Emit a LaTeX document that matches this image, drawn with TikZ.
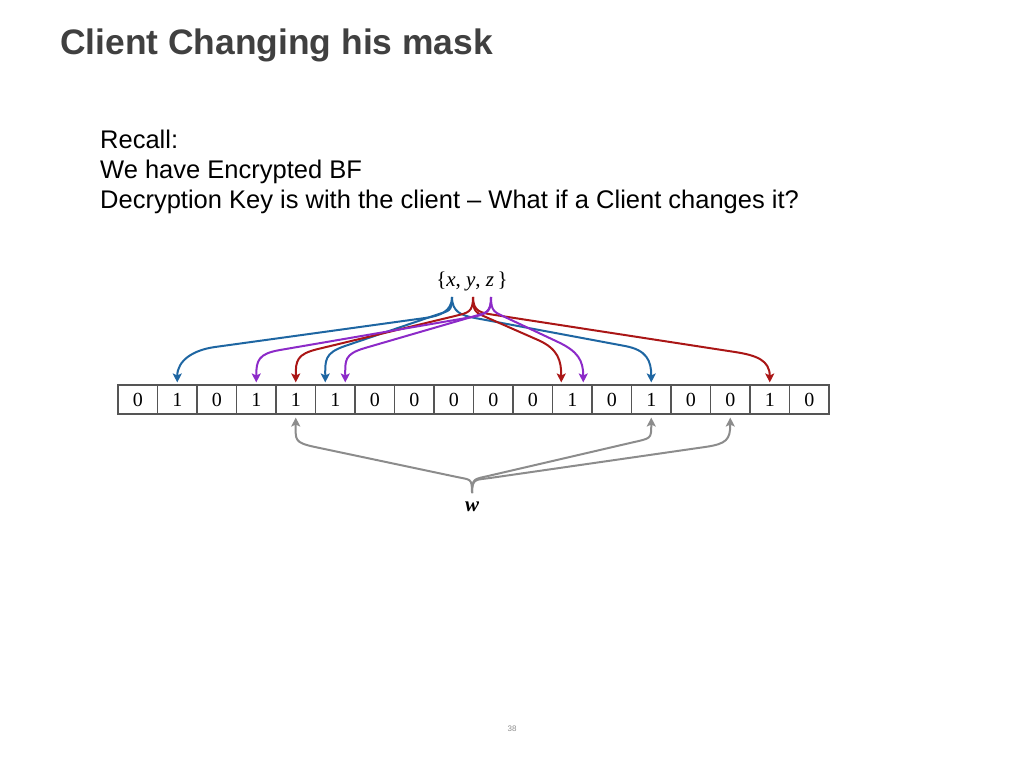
\documentclass[tikz,border=0pt]{standalone}
\usepackage{fontspec}
\newfontfamily\sansf{Liberation Sans}
\newfontfamily\serf{Liberation Serif}
\usetikzlibrary{calc,arrows.meta}
\definecolor{titlegray}{RGB}{64,64,64}
\definecolor{cellgray}{RGB}{85,85,85}
\definecolor{ablue}{RGB}{30,102,162}
\definecolor{ared}{RGB}{170,22,22}
\definecolor{apurple}{RGB}{140,42,200}
\definecolor{agray}{RGB}{140,140,140}
\newcommand{\fanarrow}[6]{%
  \draw[#1] (#2) .. controls +(0,{15*(#6)}) and ($(#4)!-14pt!(#5)$) .. (#4)
     .. controls ($(#4)!0.33!(#5)$) and ($(#4)!0.67!(#5)$) .. (#5)
     .. controls ($(#5)!-22pt!(#4)$) and +(0,{-22*(#6)}) .. (#3);}
\tikzset{
  body/.style={anchor=base west, inner sep=0, font=\sansf\fontsize{25.5}{30}\selectfont},
  cell/.style={draw=cellgray, line width=1.1pt, minimum width=39.5pt, minimum height=29pt,
    inner sep=0, font=\serf\fontsize{20}{20}\selectfont},
  arr/.style={line width=2pt, -{Stealth[length=9pt,width=9pt,inset=2pt]}},
}
\begin{document}
\begin{tikzpicture}[x=1pt,y=-1pt]
\useasboundingbox (0,0) rectangle (1024,768);
\node[anchor=base west, inner sep=0, text=titlegray, font=\sansf\bfseries\fontsize{35.4}{40}\selectfont] (title) at (60,55) {Client Changing his mask};
\node[body] (l1) at (100,148) {Recall:};
\node[body] (l2) at (100,178) {We have Encrypted BF};
\node[body] (l3) at (100,208) {Decryption Key is with the client \textendash{} What if a Client changes it?};
\foreach \b [count=\i] in {0,1,0,1,1,1,0,0,0,0,0,1,0,1,0,0,1,0}
  \node[cell] (c\i) at ({118+39.5*(\i-0.5)},399.5) {\b};
\node[inner sep=0, font=\serf\fontsize{21}{21}\selectfont] (set) at (472,281) {\{\textit{x}, \textit{y}, \textit{z}\,\}};
\node[inner sep=0, font=\serf\bfseries\itshape\fontsize{21}{21}\selectfont] (w) at (472,507) {w};
\coordinate (sb) at (452,297);
\coordinate (sr) at (473,297);
\coordinate (sp) at (491,297);
\coordinate (sw) at (472,493);
% blue
\fanarrow{arr,ablue}{sb}{[yshift=2pt]c2.north}{425,318}{215,347}{1}
\fanarrow{arr,ablue}{sb}{[xshift=-10pt,yshift=2pt]c6.north}{436,315}{345,346}{1}
\fanarrow{arr,ablue}{sb}{[yshift=2pt]c14.north}{475,318}{625,346}{1}
% red
\fanarrow{arr,ared}{sr}{[yshift=2pt]c5.north}{455,316}{318,349}{1}
\fanarrow{arr,ared}{sr}{[xshift=-11pt,yshift=2pt]c12.north}{488,318}{538,340}{1}
\fanarrow{arr,ared}{sr}{[yshift=2pt]c17.north}{495,315}{735,352}{1}
% purple
\fanarrow{arr,apurple}{sp}{[yshift=2pt]c4.north}{472,317}{280,350}{1}
\fanarrow{arr,apurple}{sp}{[xshift=10pt,yshift=2pt]c6.north}{475,316}{365,348}{1}
\fanarrow{arr,apurple}{sp}{[xshift=11pt,yshift=2pt]c12.north}{507,318}{558,342}{1}
% gray
\fanarrow{arr,agray}{sw}{[yshift=-3pt]c5.south}{457,477}{315,447}{-1}
\fanarrow{arr,agray}{sw}{[yshift=-3pt]c14.south}{488,476}{630,443}{-1}
\fanarrow{arr,agray}{sw}{[yshift=-3pt]c16.south}{490,478}{705,447}{-1}
\node[inner sep=0, text=agray, font=\sansf\fontsize{8}{8}\selectfont] (pg) at (512,729) {38};
\end{tikzpicture}
\end{document}
